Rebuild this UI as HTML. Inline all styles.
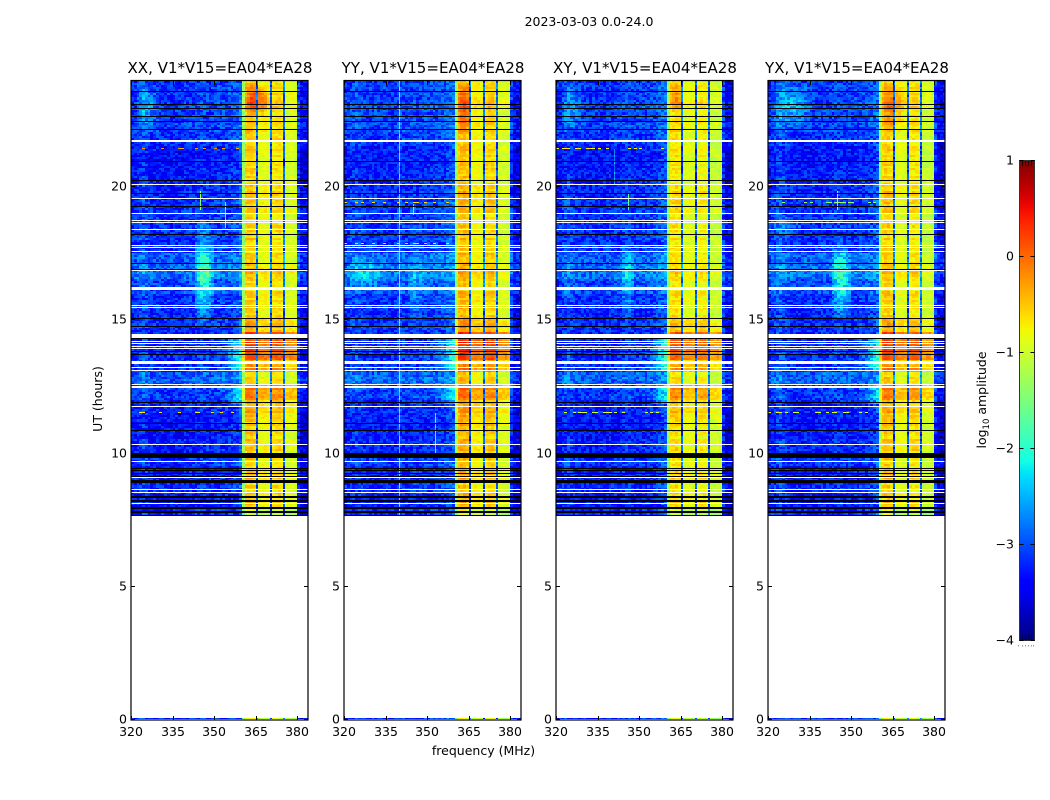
<!DOCTYPE html>
<html lang="en">
<head>
<meta charset="utf-8">
<title>2023-03-03 amplitude waterfall</title>
<style>
html,body{margin:0;padding:0;background:#fff;}
#figure{position:relative;width:1050px;height:800px;overflow:hidden;background:#fff;}
#figure canvas{position:absolute;top:81px;image-rendering:pixelated;}
#overlay{position:absolute;left:0;top:0;}
text{font-family:"DejaVu Sans","Liberation Sans",sans-serif;fill:#000;}
</style>
</head>
<body>
<div id="figure">
  <canvas id="heat-0" width="177" height="639" style="left:131px"></canvas>
  <canvas id="heat-1" width="177" height="639" style="left:344px"></canvas>
  <canvas id="heat-2" width="177" height="639" style="left:556px"></canvas>
  <canvas id="heat-3" width="177" height="639" style="left:768px"></canvas>
  <svg id="overlay" width="1050" height="800" viewBox="0 0 1050 800" xmlns="http://www.w3.org/2000/svg">
    <defs><linearGradient id="jetGrad" x1="0" y1="1" x2="0" y2="0"></linearGradient></defs>
    <text x="589" y="26" text-anchor="middle" font-size="12.5">2023-03-03 0.0-24.0</text>
    <text transform="translate(102,399) rotate(-90)" text-anchor="middle" font-size="12.5">UT (hours)</text>
    <text x="483.5" y="755" text-anchor="middle" font-size="12.5">frequency (MHz)</text>
    <text transform="translate(986,400) rotate(-90)" text-anchor="middle" font-size="12.5">log<tspan font-size="8.5" dy="3">10</tspan><tspan dy="-3"> amplitude</tspan></text>
  </svg>
</div>
<script>
// Values below are estimates. The fine-grain
// speckle tables are illustrative texture, not measured per-cell data.
const panelTitles = ["XX, V1*V15=EA04*EA28", "YY, V1*V15=EA04*EA28", "XY, V1*V15=EA04*EA28", "YX, V1*V15=EA04*EA28"];
const xTicks = [320, 335, 350, 365, 380];
const yTicks = [0, 5, 10, 15, 20];
const colorbarTicks = [-4, -3, -2, -1, 0, 1];

// log10 amplitude per 1 MHz channel, 320..383 MHz
const channelsXX = [-3.2,-3.15,-3.1,-3.0,-2.95,-3.0,-3.1,-3.15,-3.15,-3.15,-3.15,-3.15,-3.2,-3.15,-3.2,-3.15,-3.15,-3.2,-3.15,-3.1,-3.15,-3.1,-3.15,-3.1,-3.05,-3.05,-3.05,-3.1,-3.1,-3.1,-3.1,-3.05,-3.1,-3.05,-3.05,-3.05,-3.0,-3.0,-2.95,-2.85,-1.35,-0.6,-0.55,-0.55,-0.62,-2.9,-0.88,-0.82,-0.82,-0.9,-2.95,-0.72,-0.66,-0.66,-0.74,-2.9,-0.98,-0.92,-0.92,-1.0,-3.1,-3.4,-3.4,-3.45];
const channelsYY = [-3.15,-3.1,-3.05,-3.0,-2.95,-3.0,-3.05,-3.1,-3.1,-3.1,-3.15,-3.1,-3.15,-3.1,-3.1,-3.1,-3.1,-3.15,-3.1,-3.05,-3.0,-3.05,-3.1,-3.05,-3.05,-3.0,-3.05,-3.05,-3.1,-3.05,-3.05,-3.0,-3.05,-3.05,-3.0,-3.0,-2.95,-2.9,-2.85,-2.8,-1.35,-0.52,-0.46,-0.46,-0.54,-2.9,-0.84,-0.78,-0.78,-0.86,-2.95,-0.66,-0.6,-0.6,-0.68,-2.9,-1.0,-0.95,-0.95,-1.02,-3.1,-3.4,-3.4,-3.4];
const channelsXY = [-3.2,-3.15,-3.1,-3.0,-2.95,-3.0,-3.1,-3.15,-3.15,-3.15,-3.15,-3.15,-3.2,-3.15,-3.2,-3.15,-3.15,-3.2,-3.15,-3.1,-3.15,-3.1,-3.15,-3.1,-3.05,-3.05,-3.05,-3.1,-3.1,-3.1,-3.1,-3.05,-3.1,-3.05,-3.05,-3.05,-3.0,-2.95,-2.9,-2.85,-1.4,-0.72,-0.66,-0.66,-0.74,-2.9,-0.95,-0.9,-0.9,-0.96,-2.95,-0.86,-0.8,-0.8,-0.88,-2.9,-1.08,-1.04,-1.04,-1.08,-3.1,-3.4,-3.4,-3.45];
const channelsYX = [-3.15,-3.1,-3.05,-2.95,-2.9,-3.0,-3.05,-3.1,-3.15,-3.15,-3.15,-3.15,-3.2,-3.15,-3.15,-3.15,-3.15,-3.15,-3.15,-3.1,-3.1,-3.1,-3.15,-3.1,-3.05,-3.05,-3.05,-3.1,-3.1,-3.1,-3.1,-3.05,-3.1,-3.05,-3.05,-3.05,-3.0,-3.0,-2.95,-2.85,-1.35,-0.62,-0.56,-0.56,-0.64,-2.9,-0.95,-0.9,-0.9,-0.96,-2.95,-0.76,-0.7,-0.7,-0.78,-2.9,-1.08,-1.04,-1.04,-1.1,-3.1,-3.4,-3.4,-3.45];

// level offsets per half-hour bin, 7.5..24 h
const timeBackground = [-0.1,-0.2,-0.1,-0.2,-0.05,-0.15,-0.2,-0.2,-0.15,0,0.2,-0.05,-0.05,-0.1,-0.05,-0.1,-0.05,0.1,0.32,0.2,-0.05,-0.05,-0.05,-0.05,-0.1,-0.15,-0.2,-0.2,-0.05,0.05,0.05,0,0];
const timeBand = [-0.28,0.05,0.0,0.05,0,0.05,0.05,0.1,0.2,0.45,0,0.4,0.75,0.8,0.25,0,0.05,0,0.15,0,0,-0.05,-0.05,0.05,0.05,0,-0.05,0,0,0.05,0.05,0.1,0.05];

// fully flagged rows as [from, to] UT hours
const blackRows = [[23.58,23.62],[23.09,23.13],[22.91,22.95],[22.61,22.65],[22.42,22.46],[22.12,22.16],[20.92,20.96],[20.24,20.28],[19.72,19.76],[19.23,19.27],[18.18,18.22],[17.09,17.13],[16.9,16.94],[15.06,15.1],[14.73,14.77],[14.28,14.32],[13.79,13.83],[13.71,13.75],[11.91,11.95],[11.09,11.13],[10.86,10.9],[9.83,10.02],[9.44,9.47],[9.34,9.37],[9.23,9.26],[9.12,9.15],[8.89,9.01],[8.33,8.41],[8.18,8.25],[7.92,7.99],[7.77,7.84],[7.66,7.7]];
const whiteRows = [[21.69,21.77],[20.09,20.13],[19.53,19.57],[19.0,19.04],[18.74,18.78],[18.63,18.67],[18.4,18.44],[17.76,17.81],[17.69,17.73],[17.54,17.58],[16.83,16.87],[16.13,16.25],[15.55,15.59],[15.44,15.48],[14.33,14.48],[14.2,14.24],[14.09,14.13],[14.01,14.05],[13.9,13.94],[13.36,13.47],[13.19,13.23],[13.08,13.12],[12.55,12.59],[12.46,12.52],[11.76,11.8],[10.3,10.34],[9.66,9.7],[9.06,9.1],[8.61,8.65],[8.5,8.55],[8.09,8.13],[7.58,7.65]];

// soft patches: panel, from/to MHz, from/to hour, amplitude
const softPatches = [[0,342,350,14.6,18.8,0.95],[2,343,348,15,18,0.5],[3,342,350,14.8,18,0.85],[1,342,349,15,17.5,0.35],[0,350,360,13.1,14.3,1.2],[1,350,360,13.1,14.3,1.0],[2,350,360,13.1,14.3,1.1],[3,350,360,13.1,14.3,1.1],[0,350,360,11.8,12.5,0.9],[1,350,360,11.8,12.5,0.7],[2,350,360,11.8,12.5,0.8],[3,350,360,11.8,12.5,0.8],[0,321,330,22,24,0.45],[2,321,330,22,24,0.35],[3,321,336,22,24,0.6],[1,320,335,16,17.4,0.45],[3,320,334,18,19,0.3],[0,360,370,22.5,23.9,0.75],[1,360,366,21.9,24,0.5],[2,360,366,22.7,24,0.4],[3,360,370,22,24,0.5]];
// narrow features: panel, MHz, from/to hour, amplitude
const vertLines = [[0,345,19.1,19.8,1.7],[1,340,7.6,24,1.0],[1,353,10,11.5,1.1],[1,345,18.9,19.3,1.0],[2,346,19.1,19.7,1.4],[3,345,19.1,19.8,1.7],[0,354,18.4,19.4,1.3],[2,341,20,21.4,0.7]];
// sparse bright single-pixel rows: panel, hour, level
const dottedRows = [[0,21.45,-0.5],[2,21.45,-1.0],[0,11.57,-0.9],[1,17.9,-1.4],[2,11.57,-1.2],[3,11.57,-1.2],[1,19.45,-0.8],[3,19.45,-1.6]];

const speckle = [0.21,-0.28,0.05,0.3,-0.14,-0.33,0.12,0.26,-0.07,-0.22,0.33,0.02,-0.3,0.17,-0.1,0.24,-0.25,0.08,0.28,-0.18,-0.04,0.14,-0.34,0.31,-0.12,0.19,-0.27,0.1,0.01,-0.2,0.27,-0.08,0.16,-0.31,0.23,-0.02,-0.16,0.34,-0.24,0.07,0.11];
const rowStreak = [0.1,-0.15,0.25,-0.05,-0.25,0.15,0.3,-0.1,0,-0.3,0.2,0.05,-0.2,0.3,-0.1,0.15,-0.3,0.05,0.25,-0.05,-0.15,0.1,0.2,-0.25,0,0.3,-0.2,0.1,-0.1];

const panelLeft = [131, 344, 556, 768];
const channelSets = [channelsXX, channelsYY, channelsXY, channelsYX];
const gapChannels = [45, 50, 55];

function xScale(freq){ return (freq - 320) * 2.77; }            // px inside a panel
function yScale(hour){ return 720 - hour * 26.65; }             // px in the figure
function cbScale(v){ return 640 - (v + 4) * 96; }               // colorbar px

function jet(t){
  t = Math.max(0, Math.min(1, t));
  const r = Math.max(0, Math.min(1, t < 0.89 ? (t - 0.35) / 0.31 : 1 - (t - 0.89) / 0.11 * 0.5));
  const g = Math.max(0, Math.min(1, t < 0.64 ? (t - 0.125) / 0.25 : 1 - (t - 0.64) / 0.27));
  const b = Math.max(0, Math.min(1, t < 0.34 ? 0.5 + t / 0.11 * 0.5 : 1 - (t - 0.34) / 0.31));
  return "rgb(" + Math.round(r * 255) + "," + Math.round(g * 255) + "," + Math.round(b * 255) + ")";
}
function colorOf(v){ return jet((v + 4) / 5); }

function speckleAt(p, c, r){
  return speckle[(c * c * 13 + r * r * 7 + r * c * 5 + r * 11 + c * 3 + p * 19) % speckle.length];
}
function streakAt(r){
  return rowStreak[(r * r * 5 + r * 3) % rowStreak.length];
}

function cellValue(p, c, r, h){
  const f = 320 + c;
  const bin = Math.max(0, Math.min(timeBand.length - 1, Math.floor((h - 7.5) / 0.5)));
  const base = channelSets[p][c];
  const isBand = base > -2;
  let v = base + (isBand ? timeBand[bin] : timeBackground[bin]);
  const sp = speckleAt(p, c, r);
  const st = streakAt(r);
  v += isBand ? sp * 0.4 + st * (c < 45 || (c > 50 && c < 55) ? 0.5 : 0.2) : sp * 0.95 + st * 0.15;
  for (const s of softPatches) {
    if (s[0] === p && f >= s[1] && f <= s[2] && h >= s[3] && h <= s[4]) {
      const u = (f - s[1]) / (s[2] - s[1]);
      const w = (h - s[3]) / (s[4] - s[3]);
      if (s[2] === 360) {
        if (!isBand) v += s[5] * u * u;
      } else if (isBand === (s[1] >= 360)) {
        v += s[5] * Math.sin(Math.PI * u) * Math.sin(Math.PI * w);
      }
    }
  }
  return v;
}

function drawPanel(p){
  const ctx = document.getElementById("heat-" + p).getContext("2d");
  const top = 81, dt = 0.08;
  function drawCells(r, h, y0, y1){
    for (let c = 0; c < 64; c++) {
      const x0 = Math.round(xScale(320 + c));
      const x1 = Math.round(xScale(321 + c));
      if (gapChannels.includes(c)) {
        ctx.fillStyle = colorOf(cellValue(p, c + 1, r, h));
        ctx.fillRect(x0, y0, x1 - x0, y1 - y0);
        ctx.fillStyle = colorOf(cellValue(p, c, r, h));
        ctx.fillRect(x0, y0, 2, y1 - y0);
      } else {
        ctx.fillStyle = colorOf(cellValue(p, c, r, h));
        ctx.fillRect(x0, y0, x1 - x0, y1 - y0);
      }
    }
    for (const l of vertLines) {
      if (l[0] === p && h >= l[2] && h <= l[3]) {
        const c = l[1] - 320;
        ctx.fillStyle = colorOf(cellValue(p, c, r, h) + l[4]);
        ctx.fillRect(Math.round(xScale(l[1])), y0, 1, y1 - y0);
      }
    }
  }
  // the single data row at 0 h sits just above the bottom spine
  drawCells(0, 0, 637, 638);
  let r = 1;
  for (let h = 7.6; h < 24; h += dt) {
    const y0 = Math.round(yScale(h + dt)) - top;
    const y1 = Math.round(yScale(h)) - top;
    if (y1 > y0) drawCells(r, h, y0, y1);
    r++;
  }
  for (const d of dottedRows) {
    if (d[0] !== p) continue;
    const y = Math.round(yScale(d[1])) - top;
    for (let c = 0; c < 39; c++) {
      const sp = speckleAt(p, c, y);
      if (sp > 0.12) {
        ctx.fillStyle = colorOf(d[2] + sp);
        ctx.fillRect(Math.round(xScale(320 + c)), y, 3, 1);
      }
    }
  }
  for (const seg of blackRows) {
    ctx.fillStyle = "#000";
    const y0 = Math.round(yScale(seg[1])) - top;
    ctx.fillRect(0, y0, 177, Math.max(1, Math.round((seg[1] - seg[0]) * 26.65)));
  }
  for (const seg of whiteRows) {
    ctx.fillStyle = "#fff";
    const y0 = Math.round(yScale(seg[1])) - top;
    ctx.fillRect(0, y0, 177, Math.max(1, Math.round((seg[1] - seg[0]) * 26.65)));
  }
}

const svgNS = "http://www.w3.org/2000/svg";
const overlay = document.getElementById("overlay");

function addLine(parent, x1, y1, x2, y2, name, color, width){
  const el = document.createElementNS(svgNS, "line");
  el.setAttribute("x1", x1);
  el.setAttribute("y1", y1);
  el.setAttribute("x2", x2);
  el.setAttribute("y2", y2);
  el.setAttribute("stroke", color || "#000");
  el.setAttribute("stroke-width", width || 1);
  
  
  parent.appendChild(el);
}
function addText(parent, x, y, str, anchor, size, name){
  const el = document.createElementNS(svgNS, "text");
  el.setAttribute("x", x);
  el.setAttribute("y", y);
  el.setAttribute("text-anchor", anchor);
  el.setAttribute("font-size", size);
  el.textContent = str;
  
  
  parent.appendChild(el);
}

function drawAxes(p){
  const left = panelLeft[p];
  const right = left + 177;
  const g = document.createElementNS(svgNS, "g");
  
  
  overlay.appendChild(g);
  const frame = document.createElementNS(svgNS, "rect");
  frame.setAttribute("x", left);
  frame.setAttribute("y", 80.5);
  frame.setAttribute("width", 177);
  frame.setAttribute("height", 639.5);
  frame.setAttribute("fill", "none");
  frame.setAttribute("stroke", "#000");
  frame.setAttribute("stroke-width", 1.2);
  
  
  g.appendChild(frame);
  addText(g, left + 89, 73, panelTitles[p], "middle", 15.05, "panel-title");
  for (const t of xTicks) {
    const x = Math.round(left + xScale(t)) + 0.5;
    addLine(g, x, 720, x, 716, "x-tick");
    addLine(g, x, 81, x, 85, "x-tick-top");
    addText(g, x - 0.5, 736, String(t), "middle", 12.5, "x-tick-label");
  }
  for (const t of yTicks) {
    const y = Math.round(yScale(t)) - 0.5;
    addLine(g, left, y, left + 4, y, "y-tick");
    addLine(g, right, y, right - 4, y, "y-tick-right");
    addText(g, left - 4, y + 4, String(t), "end", 12.5, "y-tick-label");
  }
}

function drawColorbar(){
  const grad = document.getElementById("jetGrad");
  for (let i = 0; i <= 40; i++) {
    const stop = document.createElementNS(svgNS, "stop");
    stop.setAttribute("offset", (i / 40 * 100) + "%");
    stop.setAttribute("stop-color", jet(i / 40));
    grad.appendChild(stop);
  }
  const g = document.createElementNS(svgNS, "g");
  
  
  overlay.appendChild(g);
  const bar = document.createElementNS(svgNS, "rect");
  bar.setAttribute("x", 1019.5);
  bar.setAttribute("y", 160.5);
  bar.setAttribute("width", 15);
  bar.setAttribute("height", 480);
  bar.setAttribute("fill", "url(#jetGrad)");
  bar.setAttribute("stroke", "#333");
  bar.setAttribute("stroke-width", 1);
  
  
  g.appendChild(bar);
  for (const t of colorbarTicks) {
    const y = Math.round(cbScale(t)) + 0.5;
    addLine(g, 1019.5, y, 1023.5, y, "colorbar-tick");
    addLine(g, 1034.5, y, 1030.5, y, "colorbar-tick");
    const label = (t < 0 ? "\u2212" + Math.abs(t) : String(t));
    addText(g, 1014, y + 4, label, "end", 12.5, "colorbar-tick-label");
  }
  for (const m of [1022, 1025, 1028, 1031]) {
    addLine(g, m + 0.5, 161, m + 0.5, 166, "colorbar-minor-tick", "#200", 1);
    addLine(g, m + 0.5, 640, m + 0.5, 635, "colorbar-minor-tick", "#004", 1);
    addLine(g, m + 0.5, 645, m + 0.5, 646.5, "colorbar-minor-mark", "#999", 1);
  }
  addLine(g, 1018.5, 645, 1018.5, 646.5, "colorbar-minor-mark", "#999", 1);
  addLine(g, 1033.5, 645, 1033.5, 646.5, "colorbar-minor-mark", "#999", 1);
}

for (let p = 0; p < 4; p++) {
  drawPanel(p);
  drawAxes(p);
}
drawColorbar();
</script>
</body>
</html>
